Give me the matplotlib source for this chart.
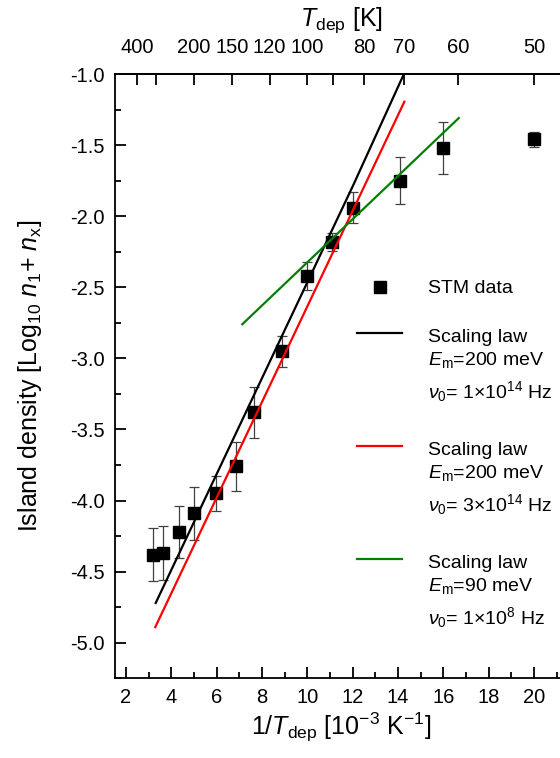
import matplotlib
matplotlib.use("Agg")
import matplotlib.pyplot as plt
import numpy as np

plt.rcParams['font.family'] = ['Liberation Sans', 'DejaVu Sans']
plt.rcParams['mathtext.fontset'] = 'custom'
plt.rcParams['mathtext.rm'] = 'Liberation Sans'
plt.rcParams['mathtext.it'] = 'Liberation Sans:italic'
plt.rcParams['mathtext.bf'] = 'Liberation Sans:bold'

# STM data
inv_T = [3.20, 3.65, 4.32, 5.00, 5.96, 6.84, 7.66, 8.89, 9.97, 11.07, 12.03, 14.07, 15.98, 19.98]
log_n = [-4.38, -4.37, -4.22, -4.09, -3.95, -3.76, -3.38, -2.95, -2.42, -2.18, -1.94, -1.75, -1.52, -1.46]
log_n_err = [0.185, 0.19, 0.185, 0.185, 0.12, 0.17, 0.18, 0.11, 0.10, 0.065, 0.11, 0.167, 0.18, 0.05]

# Scaling-law lines
black_x = [3.31, 12.03, 14.26]
black_y = [-4.72, -1.78, -1.0]
red_x = [3.29, 14.28]
red_y = [-4.89, -1.195]
green_x = [7.13, 16.68]
green_y = [-2.76, -1.31]

# Top axis temperatures
top_T = [400, 300, 200, 150, 120, 100, 90, 80, 70, 60, 50]
top_labels = ['400', '', '200', '150', '120', '100', '', '80', '70', '60', '50']

TICK_FS = 14.5
LEG_FS = 14
LAB_FS = 18

fig = plt.figure(figsize=(5.6, 7.58), dpi=100)
ax = fig.add_axes([114.7/560, (758-678.3)/758, 453.3/560, 604.3/758])

ax.errorbar(inv_T, log_n, yerr=log_n_err, fmt='none', ecolor='#404040',
            elinewidth=0.9, capsize=3.3, capthick=0.9, zorder=2)
ax.plot(inv_T, log_n, 's', color='black', markersize=8, zorder=3)
ax.plot(black_x, black_y, color='black', lw=1.6, zorder=4)
ax.plot(red_x, red_y, color='#ff0000', lw=1.6, zorder=4)
ax.plot(green_x, green_y, color='#008000', lw=1.6, zorder=4)

ax.set_xlim(1.5, 21.5)
ax.set_ylim(-5.25, -1.0)
ax.set_xticks(np.arange(2, 21, 2))
ax.set_xticks(np.arange(3, 22, 2), minor=True)
ax.set_yticks(np.arange(-5.0, -0.99, 0.5))
ax.set_yticks(np.arange(-5.25, -0.99, 0.25), minor=True)
ax.yaxis.set_major_formatter(matplotlib.ticker.FormatStrFormatter('%.1f'))

for s in ax.spines.values():
    s.set_linewidth(1.3)
ax.tick_params(which='both', direction='in', top=False, right=False, width=1.3)
ax.tick_params(which='major', length=8, labelsize=TICK_FS, pad=7)
ax.tick_params(which='minor', length=4.5)

ax.set_xlabel('1/$T_{\\mathrm{dep}}$ [10$^{-3}$ K$^{-1}$]', fontsize=LAB_FS, labelpad=3)
ax.set_ylabel('Island density [Log$_{10}$ $n_{1}$+ $n_{\\mathrm{x}}$]', fontsize=LAB_FS, labelpad=19)

sec = ax.secondary_xaxis('top', functions=(lambda x: 1000.0/np.asarray(x, float),
                                           lambda t: 1000.0/np.asarray(t, float)))
sec.set_xticks(top_T)
sec.set_xticklabels(top_labels)
sec.minorticks_off()
sec.tick_params(which='both', direction='in', length=8, width=1.3, labelsize=TICK_FS, pad=12)
sec.spines['top'].set_linewidth(1.3)
sec.set_xlabel('$T_{\\mathrm{dep}}$ [K]', fontsize=LAB_FS, labelpad=9)

# Manual legend (axes coordinates)
def ay(py):
    return 1 - (py - 74) / 604.3

tr = ax.transAxes
ax.plot([0.585], [ay(287)], 's', color='black', markersize=8, transform=tr, clip_on=False)
ax.text(0.691, ay(293.3), 'STM data', fontsize=LEG_FS, transform=tr, va='baseline')

entries = [
    ('black', 333, '200', '1×10$^{14}$'),
    ('#ff0000', 446, '200', '3×10$^{14}$'),
    ('#008000', 559, '90', '1×10$^{8}$'),
]
for color, py, em, nu in entries:
    ax.plot([0.535, 0.634], [ay(py), ay(py)], color=color, lw=1.6, transform=tr)
    ax.text(0.691, ay(py + 8.7), 'Scaling law', fontsize=LEG_FS, transform=tr, va='baseline')
    ax.text(0.691, ay(py + 32), '$E_{\\mathrm{m}}$=' + em + ' meV', fontsize=LEG_FS, transform=tr, va='baseline')
    ax.text(0.691, ay(py + 65.3), '$\\nu_{0}$= ' + nu + ' Hz', fontsize=LEG_FS, transform=tr, va='baseline')

fig.savefig('out.png', dpi=100)
